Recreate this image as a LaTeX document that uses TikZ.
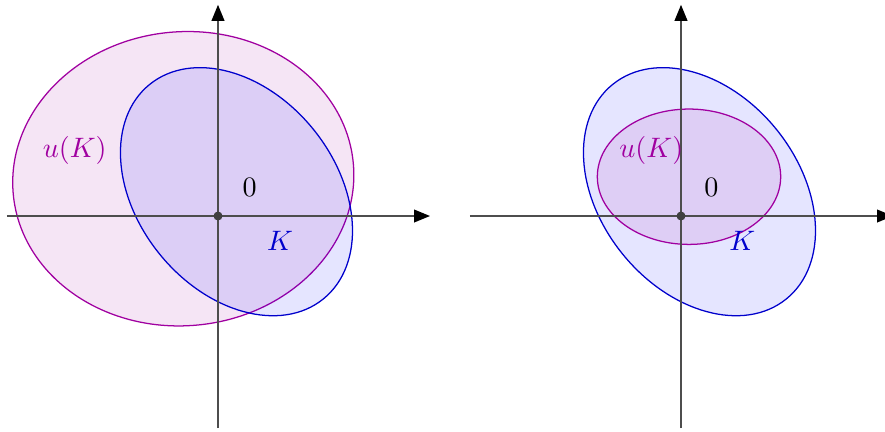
\documentclass[tikz,border=0pt]{standalone}
\usepackage{amsmath}
\definecolor{kblue}{RGB}{0,0,204}
\definecolor{ukviolet}{RGB}{160,0,160}
\definecolor{axisgray}{RGB}{77,77,77}
\usetikzlibrary{arrows.meta}

\begin{document}
\begin{tikzpicture}[
  axis/.style={draw=axisgray, line width=0.5pt, -{Triangle[length=2mm, width=1.6mm, color=black]}},
  Kset/.style={draw=kblue, line width=0.45pt, fill=blue, fill opacity=0.1},
  uKset/.style={draw=ukviolet, line width=0.45pt, fill=ukviolet, fill opacity=0.1},
  origin/.style={circle, fill=black!75, inner sep=0pt, minimum size=3.2pt}]

  \useasboundingbox (-2.725,-2.6875) rectangle (8.3375,2.7);

  % Left: u(K) contains most of K
  \begin{scope}
    \draw[uKset, shift={(-0.434,0.466)}, rotate=5] (0,0) ellipse [x radius=2.134, y radius=1.8375];
    \draw[Kset, shift={(0.231,0.304)}, rotate=-51] (0,0) ellipse [x radius=1.725, y radius=1.2375];

    \coordinate (xl1) at (-2.64,0);
    \coordinate (xr1) at (2.65,0);
    \coordinate (yb1) at (0,-2.65);
    \coordinate (yt1) at (0,2.64);
    \draw[axis] (xl1) -- (xr1);
    \draw[axis] (yb1) -- (yt1);
    \node[origin] (o1) at (0,0) {};

    \node (zero1) at (0.396,0.3525) {$0$};
    \node[text=kblue] (K1) at (0.775,-0.3125) {$K$};
    \node[text=ukviolet] (uK1) at (-1.791,0.825) {$u(K)$};
  \end{scope}

  % Right: u(K) inside K
  \begin{scope}[shift={(5.7875,0)}]
    \draw[Kset, shift={(0.231,0.304)}, rotate=-51] (0,0) ellipse [x radius=1.725, y radius=1.2375];
    \draw[uKset] (0.1,0.491) ellipse [x radius=1.146, y radius=0.846];

    \coordinate (xl2) at (-2.64,0);
    \coordinate (xr2) at (2.65,0);
    \coordinate (yb2) at (0,-2.65);
    \coordinate (yt2) at (0,2.64);
    \draw[axis] (xl2) -- (xr2);
    \draw[axis] (yb2) -- (yt2);
    \node[origin] (o2) at (0,0) {};

    \node (zero2) at (0.38,0.3525) {$0$};
    \node[text=kblue] (K2) at (0.765,-0.3125) {$K$};
    \node[text=ukviolet] (uK2) at (-0.371,0.825) {$u(K)$};
  \end{scope}
\end{tikzpicture}
\end{document}
